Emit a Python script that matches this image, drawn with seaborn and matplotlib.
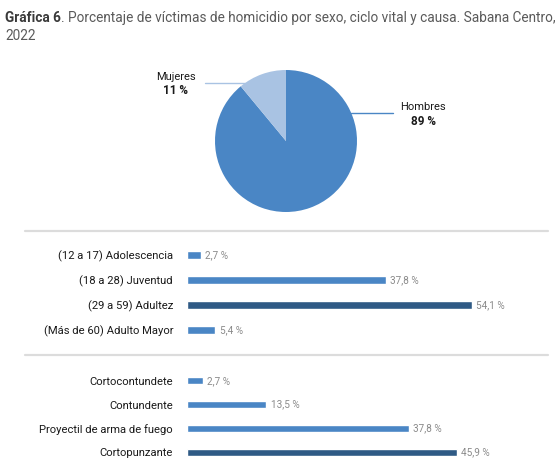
import numpy as np
import pandas as pd
import seaborn as sns
import matplotlib.pyplot as plt
from matplotlib.lines import Line2D

# data
sexo = ['Hombres', 'Mujeres']
sexo_pct = [89, 11]

ciclo = ['(12 a 17) Adolescencia', '(18 a 28) Juventud', '(29 a 59) Adultez', '(Más de 60) Adulto Mayor']
ciclo_pct = [2.7, 37.8, 54.1, 5.4]

causa = ['Cortocontundete', 'Contundente', 'Proyectil de arma de fuego', 'Cortopunzante']
causa_pct = [2.7, 13.5, 37.8, 45.9]

BLUE = '#4a86c5'
LIGHT = '#a9c3e3'
DARK = '#2f5a85'
GRAY_TXT = '#8a8a8a'

sns.set_theme(style='white')
plt.rcParams['font.family'] = ['Roboto', 'DejaVu Sans']

W, H = 560, 474
fig = plt.figure(figsize=(W / 100, H / 100), dpi=100)


def box(x0, y0, x1, y1):
    # pixel box (top-left origin) -> figure fraction rect
    return [x0 / W, 1 - y1 / H, (x1 - x0) / W, (y1 - y0) / H]


# title: bold prefix + regular rest
TS = 9.8
t1 = fig.text(5 / W, 1 - 18 / H, 'Gráfica 6', fontsize=TS, fontweight='bold',
              color='#3a3a3a', va='center', ha='left')
fig.canvas.draw()
bb = t1.get_window_extent()
fig.text(bb.x1 / W, 1 - 18 / H,
         '. Porcentaje de víctimas de homicidio por sexo, ciclo vital y causa. Sabana Centro,',
         fontsize=TS, color='#5a5a5a', va='center', ha='left')
fig.text(5 / W, 1 - 36 / H, '2022', fontsize=TS, color='#5a5a5a', va='center', ha='left')

# pie
axp = fig.add_axes(box(215, 70, 357, 212))
axp.pie(sexo_pct, colors=[BLUE, LIGHT], startangle=90, counterclock=False,
        wedgeprops=dict(linewidth=0))
axp.set_xlim(-1, 1)
axp.set_ylim(-1, 1)

# leader lines and labels
yh = 0.39
axp.plot([np.sqrt(1 - yh ** 2), 1.51], [yh, yh], color=BLUE, lw=1, clip_on=False)
axp.text(1.93, yh + 0.09, 'Hombres', ha='center', va='center', fontsize=8.0,
         color='#1a1a1a')
axp.text(1.93, yh - 0.12, f'{sexo_pct[0]} %', ha='center', va='center', fontsize=8.5,
         fontweight='bold', color='#1a1a1a')
ym = 0.817
axp.plot([-np.sqrt(1 - ym ** 2), -1.14], [ym, ym], color=LIGHT, lw=1, clip_on=False)
axp.text(-1.55, ym + 0.09, 'Mujeres', ha='center', va='center', fontsize=8.0,
         color='#1a1a1a')
axp.text(-1.55, ym - 0.11, f'{sexo_pct[1]} %', ha='center', va='center', fontsize=8.5,
         fontweight='bold', color='#1a1a1a')

# separators
for yy in (231, 355):
    fig.add_artist(Line2D([25 / W, 548 / W], [1 - yy / H, 1 - yy / H],
                          color='#dcdcdc', lw=1.6))


def bar_panel(rect, cats, vals, xmax):
    ax = fig.add_axes(rect)
    df = pd.DataFrame({'cat': cats, 'val': vals})
    top = max(vals)
    pal = {c: (DARK if v == top else BLUE) for c, v in zip(cats, vals)}
    sns.barplot(data=df, x='val', y='cat', hue='cat', palette=pal, legend=False,
                width=0.29, saturation=1, ax=ax, orient='h')
    for cont in ax.containers:
        ax.bar_label(cont, labels=[f'{v:.1f} %'.replace('.', ',') for v in cont.datavalues],
                     padding=3, fontsize=7.2, color=GRAY_TXT)
    ax.set_xlim(0, xmax)
    ax.set_ylim(3.5, -0.5)
    ax.set_xlabel('')
    ax.set_ylabel('')
    ax.set_xticks([])
    ax.tick_params(axis='y', length=0, pad=10, labelsize=8.1, labelcolor='#1a1a1a')
    sns.despine(ax=ax, left=True, bottom=True)
    return ax


bar_panel(box(187, 242.5, 548, 342.5), ciclo, ciclo_pct, 361 / 5.27)
bar_panel(box(187, 369, 548, 464), causa, causa_pct, 361 / 5.88)

plt.savefig('out.png', dpi=100)
